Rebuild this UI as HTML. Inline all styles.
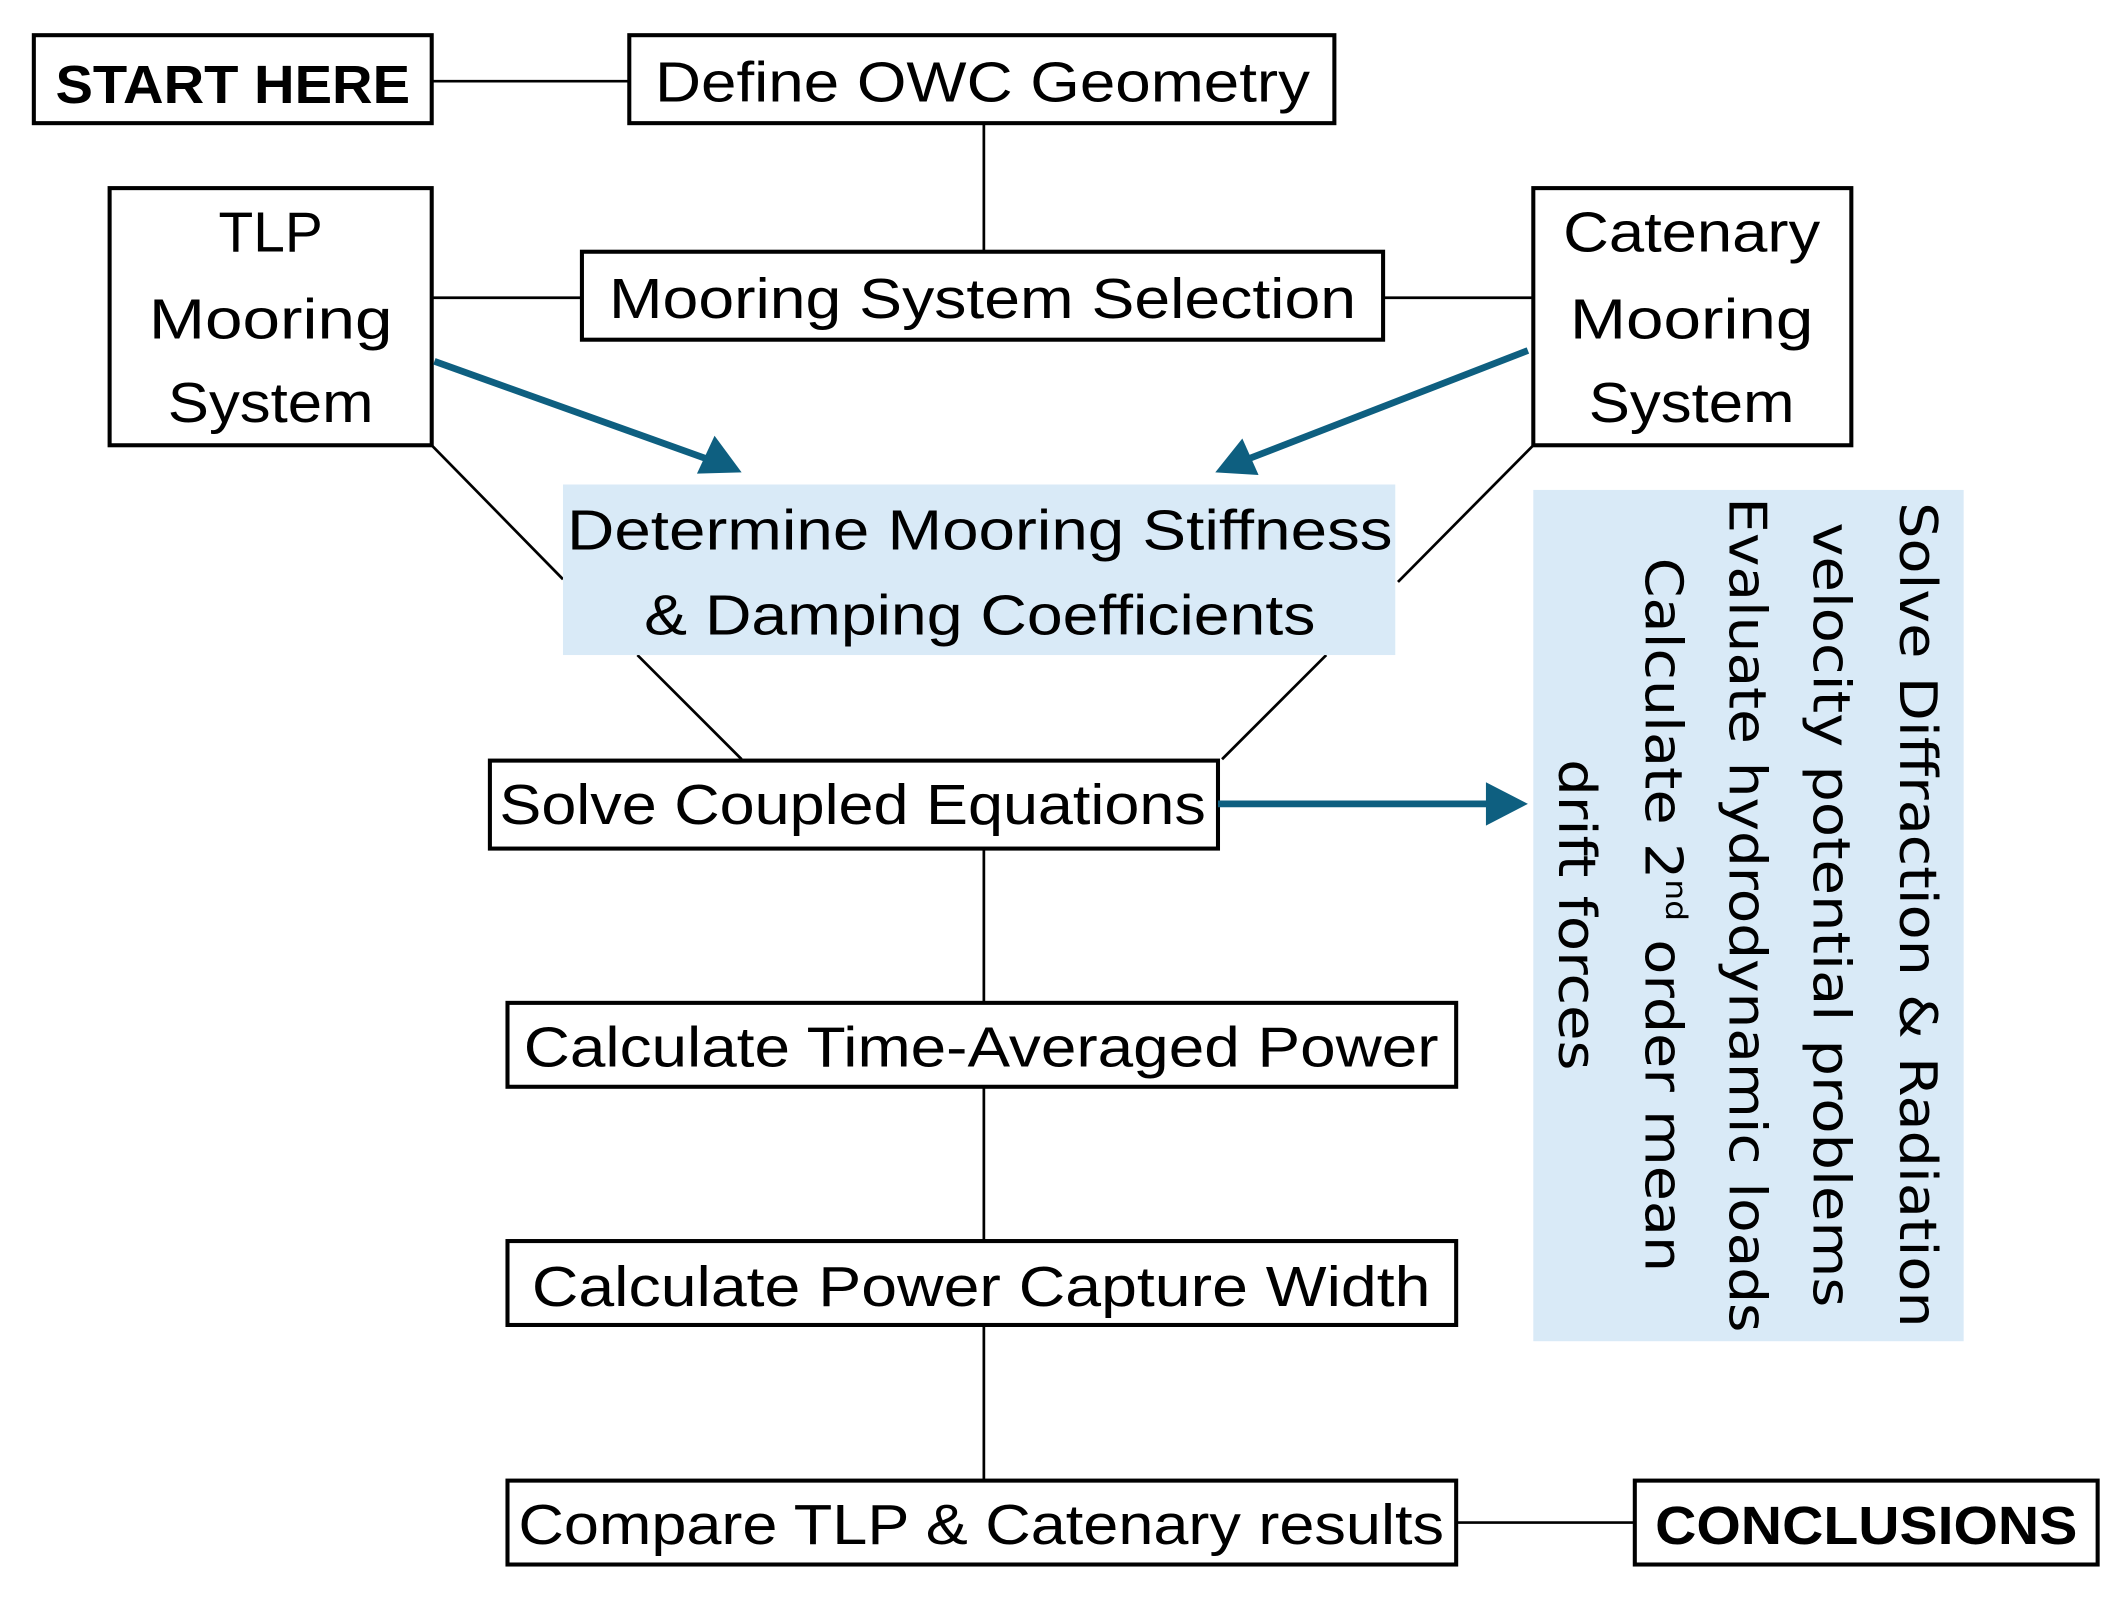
<!DOCTYPE html>
<html><head><meta charset="utf-8"><style>
html,body{margin:0;padding:0;background:#fff}
svg{display:block}
text{font-family:"Liberation Sans",Arial,sans-serif;fill:#000}
.v{font-family:"DejaVu Sans",Verdana,sans-serif}
</style></head><body>
<svg width="2122" height="1597" viewBox="0 0 1568 1180" preserveAspectRatio="none" xmlns="http://www.w3.org/2000/svg">
<defs>
<marker id="ah" markerWidth="10" markerHeight="10" refX="8" refY="5" orient="auto" markerUnits="userSpaceOnUse" viewBox="0 0 10 10">
</marker>
</defs>
<g fill="none" stroke="#000" stroke-width="2">
<line x1="319" y1="60" x2="465" y2="60"/>
<line x1="727" y1="91" x2="727" y2="186"/>
<line x1="319" y1="220" x2="430" y2="220"/>
<line x1="1022" y1="220" x2="1133" y2="220"/>
<line x1="319" y1="329" x2="416" y2="428"/>
<line x1="1133" y1="329" x2="1033" y2="430"/>
<line x1="471" y1="484" x2="548" y2="561"/>
<line x1="980" y1="484" x2="903" y2="561"/>
<line x1="727" y1="627" x2="727" y2="741"/>
<line x1="727" y1="803" x2="727" y2="917"/>
<line x1="727" y1="979" x2="727" y2="1094"/>
<line x1="1076" y1="1125" x2="1208" y2="1125"/>
</g>
<g fill="#fff" stroke="#000" stroke-width="3">
<rect x="25" y="26" width="294" height="65"/>
<rect x="465" y="26" width="521" height="65"/>
<rect x="430" y="186" width="592" height="65"/>
<rect x="81" y="139" width="238" height="190"/>
<rect x="1133" y="139" width="235" height="190"/>
<rect x="362" y="562" width="538" height="65"/>
<rect x="375" y="741" width="701" height="62"/>
<rect x="375" y="917" width="701" height="62"/>
<rect x="375" y="1094" width="701" height="62"/>
<rect x="1208" y="1094" width="342" height="62"/>
</g>
<rect x="416" y="358" width="615" height="126" fill="#d9eaf7"/>
<rect x="1133" y="362" width="318" height="629" fill="#d9eaf7"/>
<!-- blue arrows -->
<g stroke="#0e5f80" stroke-width="5" fill="#0e5f80">
<line x1="321" y1="267" x2="525" y2="340"/>
<line x1="1129" y1="259" x2="920" y2="340"/>
<line x1="900" y1="594" x2="1105" y2="594"/>
</g>
<g fill="#0e5f80">
<polygon points="548,349 515,350 528,322"/>
<polygon points="898,349 918,324 930,351"/>
<polygon points="1129,594 1098,578 1098,610"/>
</g>
<text x="172" y="76" font-size="40" font-weight="bold" text-anchor="middle" textLength="262" lengthAdjust="spacingAndGlyphs">START HERE</text>
<text x="726" y="75" font-size="42" text-anchor="middle" textLength="484" lengthAdjust="spacingAndGlyphs">Define OWC Geometry</text>
<text x="726" y="235" font-size="42" text-anchor="middle" textLength="552" lengthAdjust="spacingAndGlyphs">Mooring System Selection</text>
<text x="200" y="186" font-size="42" text-anchor="middle">TLP</text>
<text x="200" y="250" font-size="42" text-anchor="middle" textLength="180" lengthAdjust="spacingAndGlyphs">Mooring</text>
<text x="200" y="312" font-size="42" text-anchor="middle" textLength="152" lengthAdjust="spacingAndGlyphs">System</text>
<text x="1250" y="186" font-size="42" text-anchor="middle" textLength="190" lengthAdjust="spacingAndGlyphs">Catenary</text>
<text x="1250" y="250" font-size="42" text-anchor="middle" textLength="180" lengthAdjust="spacingAndGlyphs">Mooring</text>
<text x="1250" y="312" font-size="42" text-anchor="middle" textLength="152" lengthAdjust="spacingAndGlyphs">System</text>
<text x="724" y="406" font-size="42" text-anchor="middle" textLength="610" lengthAdjust="spacingAndGlyphs">Determine Mooring Stiffness</text>
<text x="724" y="469" font-size="42" text-anchor="middle" textLength="496" lengthAdjust="spacingAndGlyphs">&amp; Damping Coefficients</text>
<text x="630" y="609" font-size="42" text-anchor="middle" textLength="522" lengthAdjust="spacingAndGlyphs">Solve Coupled Equations</text>
<text x="725" y="788" font-size="42" text-anchor="middle" textLength="676" lengthAdjust="spacingAndGlyphs">Calculate Time-Averaged Power</text>
<text x="725" y="965" font-size="42" text-anchor="middle" textLength="664" lengthAdjust="spacingAndGlyphs">Calculate Power Capture Width</text>
<text x="725" y="1141" font-size="42" text-anchor="middle" textLength="684" lengthAdjust="spacingAndGlyphs">Compare TLP &amp; Catenary results</text>
<text x="1379" y="1141" font-size="40" font-weight="bold" text-anchor="middle" textLength="312" lengthAdjust="spacingAndGlyphs">CONCLUSIONS</text>
<g transform="translate(1292,676) rotate(90)">
<text class="v" x="0" y="-112" font-size="38" text-anchor="middle" textLength="610" lengthAdjust="spacingAndGlyphs">Solve Diffraction &amp; Radiation</text>
<text class="v" x="0" y="-48" font-size="38" text-anchor="middle" textLength="580" lengthAdjust="spacingAndGlyphs">velocity potential problems</text>
<text class="v" x="0" y="14" font-size="38" text-anchor="middle" textLength="617" lengthAdjust="spacingAndGlyphs">Evaluate hydrodynamic loads</text>
<text class="v" x="0" y="76" font-size="38" text-anchor="middle" textLength="528" lengthAdjust="spacingAndGlyphs">Calculate 2<tspan font-size="22" dy="-15">nd</tspan><tspan dy="15"> order mean</tspan></text>
<text class="v" x="0" y="140" font-size="38" text-anchor="middle" textLength="230" lengthAdjust="spacingAndGlyphs">drift forces</text>
</g>
</svg>
</body></html>
